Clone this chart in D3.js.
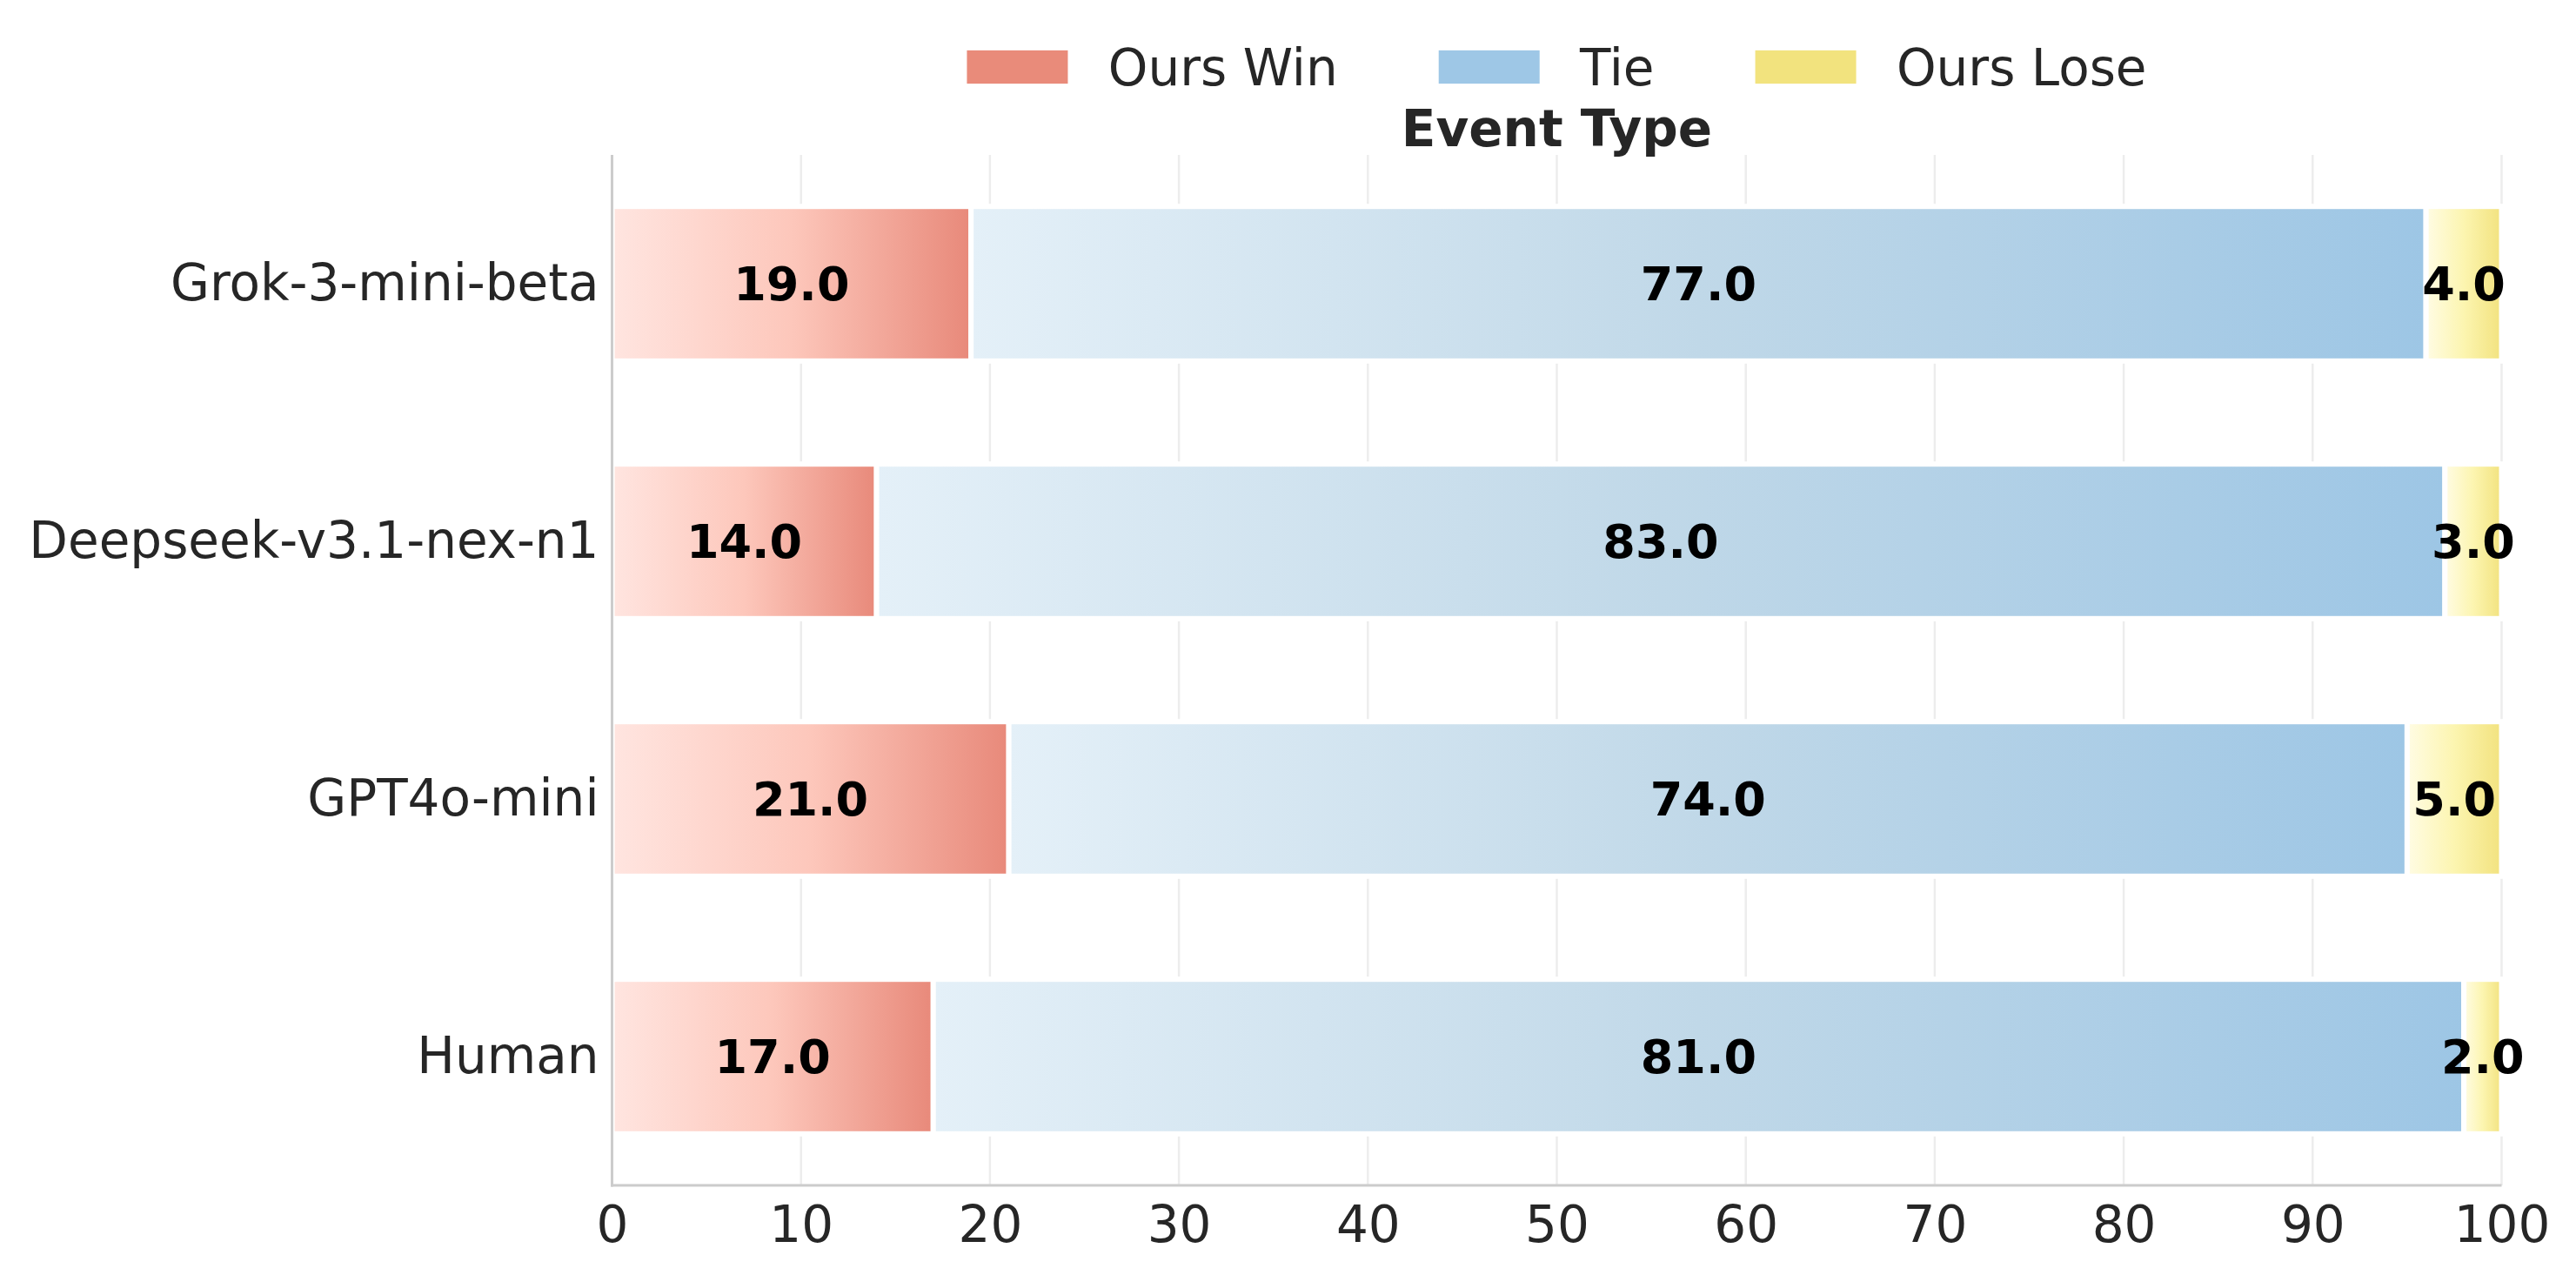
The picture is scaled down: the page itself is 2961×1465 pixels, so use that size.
<!DOCTYPE html>
<html>
<head>
<meta charset="utf-8">
<script src="https://cdn.jsdelivr.net/npm/d3@7"></script>
<style>
  html, body { margin: 0; padding: 0; background: #ffffff; }
  svg { display: block; }
  text { font-family: "DejaVu Sans", sans-serif; }
</style>
</head>
<body>
<svg id="chart" width="2961" height="1465"></svg>
<script>
// ---- data ----
const categories = ["Grok-3-mini-beta", "Deepseek-v3.1-nex-n1", "GPT4o-mini", "Human"];
const winValues  = [19, 14, 21, 17];
const tieValues  = [77, 83, 74, 81];
const loseValues = [4, 3, 5, 2];
const seriesNames = ["Ours Win", "Tie", "Ours Lose"];
const xTickValues = [0, 10, 20, 30, 40, 50, 60, 70, 80, 90, 100];
const titleText = "Event Type";

// ---- styles ----
const baseColors = ["#e98b7a", "#9ec7e6", "#f2e37e"];
const gradStops = [
  ["#ffe5e0", "#fdc7bb", "#e8897a"],
  ["#e4f0f8", "#c0d8e8", "#9dc6e5"],
  ["#fffce4", "#fcf5b0", "#f2e27e"]
];

const W = 2961, H = 1465;
const plot = { left: 703.5, right: 2875.5, top: 178, bottom: 1362 };

const svg = d3.select("#chart");
const defs = svg.append("defs");
gradStops.forEach((stops, i) => {
  const g = defs.append("linearGradient")
    .attr("id", "grad" + i)
    .attr("x1", "0%").attr("x2", "100%").attr("y1", "0%").attr("y2", "0%");
  stops.forEach((c, j) => {
    g.append("stop").attr("offset", (j / (stops.length - 1) * 100) + "%").attr("stop-color", c);
  });
});

const x = d3.scaleLinear().domain([0, 100]).range([plot.left, plot.right]);
const y = d3.scaleBand().domain(categories).range([plot.top, plot.bottom])
  .paddingInner(0.4).paddingOuter(0.2);

// grid lines
svg.append("g").selectAll("line").data(xTickValues).join("line")
  .attr("x1", d => x(d)).attr("x2", d => x(d))
  .attr("y1", plot.top).attr("y2", plot.bottom)
  .attr("stroke", "#ededed").attr("stroke-width", 2.5);

// stacked data
const rows = categories.map((c, i) => ({ cat: c, vals: [winValues[i], tieValues[i], loseValues[i]] }));
const segs = [];
rows.forEach(r => {
  let acc = 0;
  r.vals.forEach((v, k) => {
    segs.push({ cat: r.cat, k, x0: acc, x1: acc + v, v });
    acc += v;
  });
});

const barG = svg.append("g");
barG.selectAll("rect").data(segs).join("rect")
  .attr("x", d => x(d.x0))
  .attr("y", d => y(d.cat))
  .attr("width", d => x(d.x1) - x(d.x0))
  .attr("height", y.bandwidth())
  .attr("fill", d => `url(#grad${d.k})`)
  .attr("stroke", "#ffffff")
  .attr("stroke-width", 6);

// value labels
svg.append("g").selectAll("text").data(segs).join("text")
  .attr("x", d => x((d.x0 + d.x1) / 2))
  .attr("y", d => y(d.cat) + y.bandwidth() / 2)
  .attr("dy", "0.36em")
  .attr("text-anchor", "middle")
  .attr("font-size", 54)
  .attr("font-weight", "bold")
  .attr("fill", "#000000")
  .text(d => d.v.toFixed(1));

// spines
svg.append("line")
  .attr("x1", plot.left).attr("x2", plot.left)
  .attr("y1", plot.top).attr("y2", plot.bottom + 1.5)
  .attr("stroke", "#cccccc").attr("stroke-width", 3);
svg.append("line")
  .attr("x1", plot.left - 1.5).attr("x2", plot.right)
  .attr("y1", plot.bottom).attr("y2", plot.bottom)
  .attr("stroke", "#cccccc").attr("stroke-width", 3);

// x axis tick labels
const xAxis = d3.axisBottom(x).tickValues(xTickValues).tickSize(0).tickPadding(24).tickFormat(d3.format("d"));
const xg = svg.append("g").attr("transform", `translate(0,${plot.bottom})`).call(xAxis);
xg.select(".domain").remove();
xg.selectAll("text").attr("font-size", 58).attr("fill", "#262626")
  .attr("font-family", "DejaVu Sans, sans-serif");

// y axis labels
const yAxis = d3.axisLeft(y).tickSize(0).tickPadding(15);
const yg = svg.append("g").attr("transform", `translate(${plot.left},0)`).call(yAxis);
yg.select(".domain").remove();
yg.selectAll("text").attr("font-size", 58).attr("fill", "#262626")
  .attr("font-family", "DejaVu Sans, sans-serif");

// title
svg.append("text")
  .attr("x", (plot.left + plot.right) / 2)
  .attr("y", 147).attr("dy", "0.36em")
  .attr("text-anchor", "middle")
  .attr("font-size", 58).attr("font-weight", "bold").attr("fill", "#262626")
  .text(titleText);

// legend
const fs = 58, handleLen = 2.0 * fs, handleH = 0.66 * fs, textPad = 0.8 * fs, colSpace = 2.0 * fs;
const legG = svg.append("g");
const items = seriesNames.map((n, i) => {
  const g = legG.append("g");
  g.append("rect").attr("x", 0).attr("y", -handleH / 2).attr("width", handleLen).attr("height", handleH)
    .attr("fill", baseColors[i]);
  const t = g.append("text").attr("x", handleLen + textPad).attr("y", 0).attr("dy", "0.36em")
    .attr("font-size", fs).attr("fill", "#262626").text(n);
  const tw = t.node().getComputedTextLength();
  return { g, w: handleLen + textPad + tw };
});
const totalW = d3.sum(items, d => d.w) + colSpace * (items.length - 1);
let cx = (plot.left + plot.right) / 2 - totalW / 2;
items.forEach(it => {
  it.g.attr("transform", `translate(${cx},77)`);
  cx += it.w + colSpace;
});
</script>
</body>
</html>
